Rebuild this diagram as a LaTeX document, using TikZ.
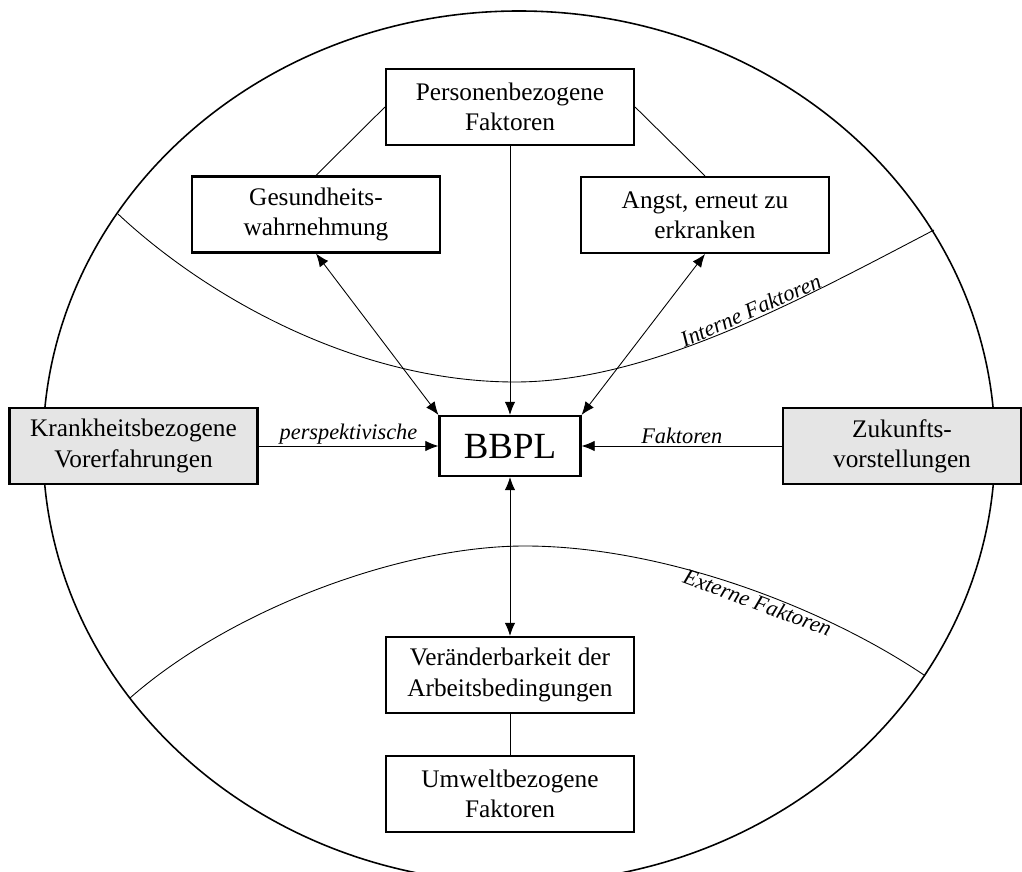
\documentclass[tikz,border=0pt]{standalone}
\usepackage{fontspec}
\setmainfont{Liberation Serif}
\usetikzlibrary{arrows.meta}
\definecolor{boxgrey}{gray}{0.9}
\tikzset{
  >={Latex[length=7.5pt,width=6pt]},
  box/.style={draw,line width=1.2pt,fill=white,align=center,minimum width=4.96cm,minimum height=1.52cm,font=\fontsize{14.4}{17.2}\selectfont},
  greybox/.style={box,fill=boxgrey},
  link/.style={line width=0.5pt},
  lbl/.style={font=\fontsize{12.7}{15}\selectfont\itshape,inner sep=1pt},
}
\begin{document}
\begin{tikzpicture}
\clip (-10.2,-8.52) rectangle (10.24,8.92);
\draw[line width=0.9pt] (0.18,-0.02) ellipse [x radius=9.52,y radius=8.72];
\draw[link] (-7.84,4.64) .. controls (-6.0,2.92) and (-3.0,1.28) .. (0.1,1.28)
  .. controls (2.8,1.28) and (5.8,2.92) .. (8.48,4.32) node[lbl,pos=0.57,sloped,above] (intern) {Interne Faktoren};
\draw[link] (-7.6,-5.04) .. controls (-5.6,-3.28) and (-2.2,-2.0) .. (0.3,-2.0)
  .. controls (3.0,-2.0) and (6.2,-3.18) .. (8.28,-4.58) node[lbl,pos=0.56,sloped,below] (extern) {Externe Faktoren};
\node[box,at={(0,6.78)}] (pers) {Personenbezogene\\Faktoren};
\node[box,at={(-3.88,4.63)}] (ges) {Gesundheits-\\wahrnehmung};
\node[box,at={(3.9,4.62)}] (angst) {Angst, erneut zu\\erkranken};
\node[draw,line width=1.2pt,fill=white,minimum width=2.82cm,minimum height=1.2cm,font=\fontsize{21}{25}\selectfont,at={(0,0)}] (bbpl) {BBPL};
\node[greybox,at={(-7.53,0)}] (krank) {Krankheitsbezogene\\Vorerfahrungen};
\node[greybox,minimum width=4.76cm,at={(7.84,0)}] (zuk) {Zukunfts-\\vorstellungen};
\node[box,at={(0,-4.58)}] (ver) {Veränderbarkeit der\\Arbeitsbedingungen};
\node[box,at={(0,-6.96)}] (umw) {Umweltbezogene\\Faktoren};
\draw[link] (pers.west) -- (ges.north);
\draw[link] (pers.east) -- (angst.north);
\draw[link,->] (pers) -- (bbpl);
\draw[link,<->] (ges.south) -- (bbpl.north west);
\draw[link,<->] (angst.south) -- (bbpl.north east);
\draw[link,->] (krank) -- (bbpl) node[lbl,midway,above] (persp) {perspektivische};
\draw[link,->] (zuk) -- (bbpl) node[lbl,midway,above] (fakt) {Faktoren};
\draw[link,<->] (bbpl) -- (ver);
\draw[link] (ver) -- (umw);
\end{tikzpicture}
\end{document}
